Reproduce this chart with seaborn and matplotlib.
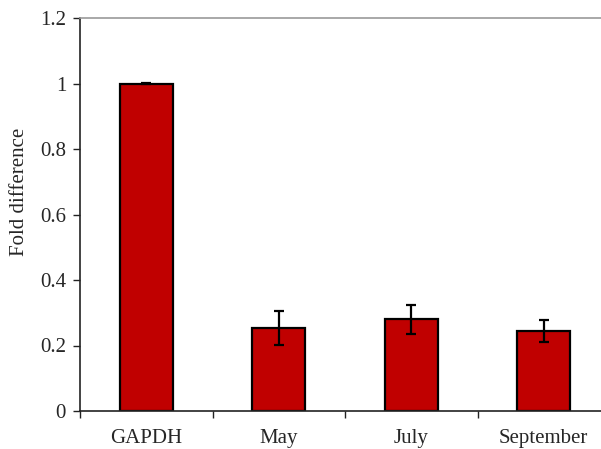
import numpy as np
import pandas as pd
import seaborn as sns
import matplotlib.pyplot as plt
from matplotlib.ticker import FuncFormatter

# data
categories = ['GAPDH', 'May', 'July', 'September']
fold_diff = [1.0, 0.254, 0.280, 0.244]
fold_err = [0.002, 0.051, 0.044, 0.033]

sns.set_style('ticks')
plt.rcParams['font.family'] = ['Liberation Serif', 'DejaVu Serif']

df = pd.DataFrame({'sample': categories, 'fold': fold_diff})

fig = plt.figure(figsize=(6.01, 4.49), dpi=100)
ax = fig.add_axes([80 / 601, 38 / 449, 530 / 601, 393 / 449])

sns.barplot(data=df, x='sample', y='fold', order=categories, color='#C00000',
            saturation=1, width=0.4, edgecolor='black', linewidth=1.6,
            errorbar=None, ax=ax)
ax.errorbar(np.arange(len(categories)), fold_diff, yerr=fold_err, fmt='none',
            ecolor='black', elinewidth=1.6, capsize=3.5, capthick=1.6)

ax.set_xlim(-0.5, len(categories) - 0.5)
ax.set_ylim(0, 1.2)
ax.set_yticks(np.arange(0, 1.21, 0.2))
ax.yaxis.set_major_formatter(FuncFormatter(lambda v, p: f'{v:g}'))
ax.set_xticks(np.arange(-0.5, len(categories), 1.0))
ax.set_xticklabels([])
ax.set_xticks(np.arange(len(categories)), minor=True)
ax.set_xticklabels(categories, minor=True)
ax.tick_params(axis='x', which='minor', length=0, pad=13, labelsize=15)
ax.tick_params(axis='x', which='major', length=5, width=1, color='#222222')
ax.tick_params(axis='y', length=5, width=1, color='#222222', labelsize=15, pad=5)

ax.set_xlabel('')
ax.set_ylabel('Fold difference', fontsize=15)
ax.yaxis.set_label_coords(-0.096, 0.557)

sns.despine(ax=ax, top=False, right=True)
ax.spines['top'].set_color('#999999')
ax.spines['top'].set_linewidth(1.2)
ax.spines['left'].set_color('#222222')
ax.spines['bottom'].set_color('#222222')
ax.spines['left'].set_linewidth(1.2)
ax.spines['bottom'].set_linewidth(1.2)

fig.savefig('out.png', dpi=100)
